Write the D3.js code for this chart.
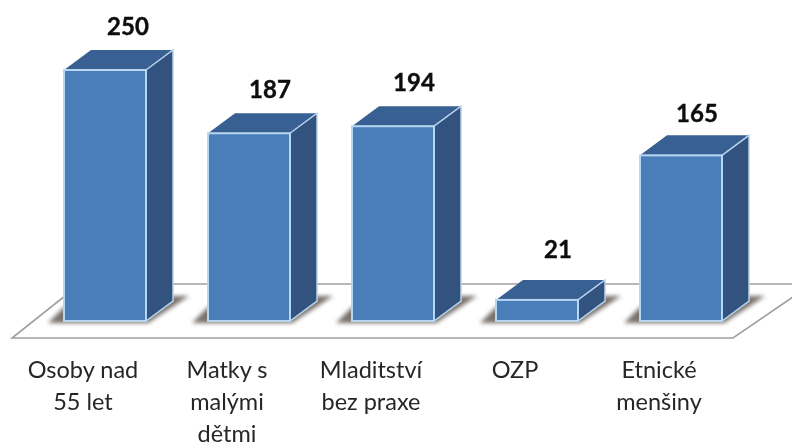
<!DOCTYPE html>
<html>
<head>
<meta charset="utf-8">
<script src="https://cdn.jsdelivr.net/npm/d3@7"></script>
<style>
html, body { margin: 0; padding: 0; background: #fff; }
svg { display: block; }
text { font-family: Lato, "Open Sans", sans-serif; }
</style>
</head>
<body>
<div id="chart"></div>
<script>
// values
var categories = ["Osoby nad 55 let", "Matky s malými dětmi", "Mladitství bez praxe", "OZP", "Etnické menšiny"];
var values = [250, 187, 194, 21, 165];
var labelLines = [["Osoby nad", "55 let"], ["Matky s", "malými", "dětmi"], ["Mladitství", "bez praxe"], ["OZP"], ["Etnické", "menšiny"]];

var width = 792, height = 443;
var depthX = 27, depthY = 20;

var svg = d3.select("#chart").append("svg")
    .attr("width", width)
    .attr("height", height);

var defs = svg.append("defs");
defs.append("filter").attr("id", "soft").append("feGaussianBlur").attr("stdDeviation", 0.45);
defs.append("filter").attr("id", "shadow")
    .attr("x", "-20%").attr("width", "140%")
    .attr("y", "-50%").attr("height", "200%")
    .append("feGaussianBlur").attr("stdDeviation", 2.2);

var x = d3.scaleBand()
    .domain(categories)
    .range([28, 758])
    .paddingInner(0.4306)
    .paddingOuter(0.25);

// plain linear scale, 0 sits on the front of the floor
var y = d3.scaleLinear()
    .domain([0, 250])
    .range([321, 70]);

var g = svg.append("g").attr("filter", "url(#soft)");

// floor
var floorY = 338, backY = 284;
var floorLine = d3.line();
g.append("path")
    .attr("d", floorLine([[80, backY], [812, backY], [733, floorY], [12, floorY], [80, backY]]))
    .attr("fill", "#fff")
    .attr("stroke", "#a0a0a0")
    .attr("stroke-width", 1.6);

var bars = g.selectAll("g.bar")
    .data(categories)
    .enter().append("g")
    .attr("class", "bar");

// shadow on the floor
bars.append("path")
    .attr("d", function(d) {
        var x0 = x(d), x1 = x0 + x.bandwidth(), b = y(0);
        return floorLine([[x0 - 16, b + 2], [x1 + 2, b + 2], [x1 + depthX + 16, b - depthY - 5], [x1 + depthX, b - depthY - 5], [x0, b - 14]]);
    })
    .attr("fill", "#6a625c")
    .attr("opacity", 0.9)
    .attr("filter", "url(#shadow)");

// top face
bars.append("path")
    .attr("d", function(d, i) {
        var x0 = x(d), x1 = x0 + x.bandwidth(), t = y(values[i]);
        return floorLine([[x0, t], [x0 + depthX, t - depthY], [x1 + depthX, t - depthY], [x1, t]]) + "Z";
    })
    .attr("fill", "#376092");

// side face
bars.append("path")
    .attr("d", function(d, i) {
        var x1 = x(d) + x.bandwidth(), t = y(values[i]), b = y(0);
        return floorLine([[x1, t], [x1 + depthX, t - depthY], [x1 + depthX, b - depthY], [x1, b]]) + "Z";
    })
    .attr("fill", "#30527f")
    .attr("stroke", "#b9d3ec")
    .attr("stroke-width", 1.5);

// front face
bars.append("rect")
    .attr("x", function(d) { return x(d); })
    .attr("y", function(d, i) { return y(values[i]); })
    .attr("width", x.bandwidth())
    .attr("height", function(d, i) { return y(0) - y(values[i]); })
    .attr("fill", "#4a7ebb")
    .attr("stroke", "#b9d6f0")
    .attr("stroke-width", 2);

// value labels sit above the back edge of the top face, some were moved by hand
var nudgeX = { "Osoby nad 55 let": 2, "Etnické menšiny": -5 };
var nudgeY = { "OZP": -7, "Etnické menšiny": 2 };
g.selectAll("text.value")
    .data(categories)
    .enter().append("text")
    .attr("class", "value")
    .attr("x", function(d) { return x(d) + x.bandwidth() / 2 + 21 + (nudgeX[d] || 0); })
    .attr("y", function(d, i) { return y(values[i]) - 35 + (nudgeY[d] || 0); })
    .attr("text-anchor", "middle")
    .attr("font-size", 24)
    .attr("font-weight", 700)
    .attr("fill", "#111")
    .attr("stroke", "#111")
    .attr("stroke-width", 0.4)
    .text(function(d, i) { return values[i]; });

// category labels
var labels = g.selectAll("text.cat")
    .data(categories)
    .enter().append("text")
    .attr("class", "cat")
    .attr("text-anchor", "middle")
    .attr("font-size", 23.5)
    .attr("fill", "#262626");

labels.selectAll("tspan")
    .data(function(d, i) { return labelLines[i].map(function(t) { return { text: t, cat: d }; }); })
    .enter().append("tspan")
    .attr("x", function(d) { return x(d.cat) + x.bandwidth() / 2 - 22; })
    .attr("y", function(d, i) { return 378 + i * 32; })
    .text(function(d) { return d.text; });
</script>
</body>
</html>
